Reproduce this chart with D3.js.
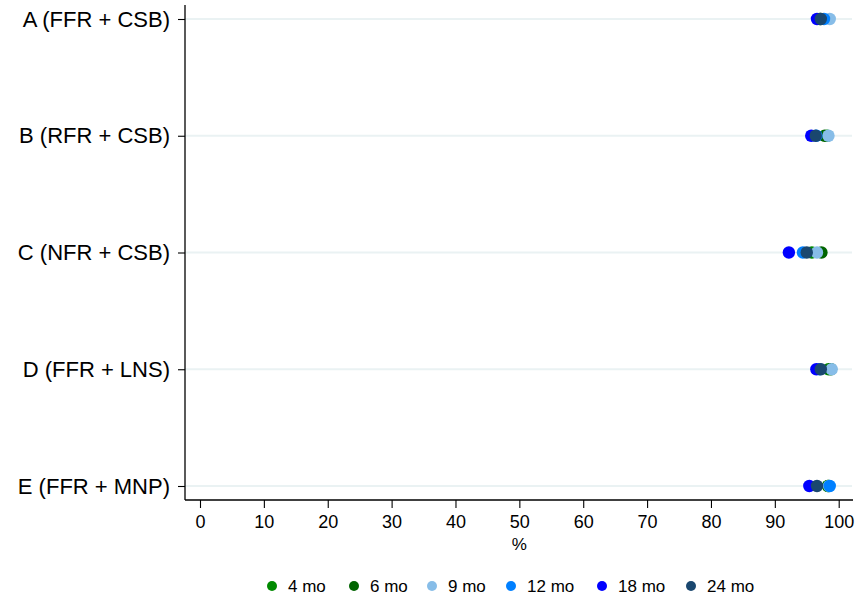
<!DOCTYPE html>
<html>
<head>
<meta charset="utf-8">
<script src="https://cdn.jsdelivr.net/npm/d3@7"></script>
<style>
  body { margin: 0; background: #fff; }
  svg { display: block; font-family: "Liberation Sans", Arial, sans-serif; }
</style>
</head>
<body>
<svg id="chart" width="859" height="600"></svg>
<script>
// Groups (top to bottom) and survey rounds
const groups = ["A (FFR + CSB)", "B (RFR + CSB)", "C (NFR + CSB)", "D (FFR + LNS)", "E (FFR + MNP)"];
const rounds = ["4 mo", "6 mo", "9 mo", "12 mo", "18 mo", "24 mo"];
const roundColors = ["#008a00", "#006400", "#87bde8", "#0080ff", "#0000ff", "#1a476f"];

// Percent per group, one array per round (order follows groups)
const pct4mo  = [97.0, 98.2, 95.8, 98.4, 98.3];
const pct6mo  = [97.2, 97.8, 97.3, 98.8, 98.4];
const pct9mo  = [98.6, 98.4, 96.6, 98.9, 98.5];
const pct12mo = [97.7, 96.5, 94.4, 97.0, 98.6];
const pct18mo = [96.6, 95.7, 92.2, 96.5, 95.4];
const pct24mo = [97.2, 96.4, 95.0, 97.2, 96.6];
const seriesValues = [pct4mo, pct6mo, pct9mo, pct12mo, pct18mo, pct24mo];

const xTicks = [0, 10, 20, 30, 40, 50, 60, 70, 80, 90, 100];

const svg = d3.select("#chart");
const plot = { left: 185, right: 853, top: 5, bottom: 500 };

const x = d3.scaleLinear().domain([0, 100]).range([200, 838.7]);
const y = d3.scalePoint().domain(groups).range([19, 486]);

// Horizontal gridlines at each group
svg.append("g").selectAll("line").data(groups).join("line")
  .attr("x1", plot.left).attr("x2", plot.right - 1)
  .attr("y1", d => y(d)).attr("y2", d => y(d))
  .attr("stroke", "#eaf2f3").attr("stroke-width", 2);

// X axis
const xAxis = svg.append("g")
  .attr("transform", `translate(0,${plot.bottom})`)
  .call(d3.axisBottom(x).tickValues(xTicks).tickSize(8).tickPadding(7).tickSizeOuter(0));
xAxis.select(".domain").attr("d", `M${plot.left},0H${plot.right}`).attr("stroke", "#000").attr("stroke-width", 1.3);
xAxis.selectAll(".tick line").attr("stroke", "#000").attr("stroke-width", 1.1);
xAxis.selectAll(".tick text").attr("font-size", 18).attr("fill", "#000")
  .attr("font-family", "Liberation Sans, Arial, sans-serif");

// Y axis
const yAxis = svg.append("g")
  .attr("transform", `translate(${plot.left},0)`)
  .call(d3.axisLeft(y).tickSize(7).tickPadding(8));
yAxis.select(".domain").attr("d", `M0,${plot.top}V${plot.bottom}`).attr("stroke", "#000").attr("stroke-width", 1.3);
yAxis.selectAll(".tick line").attr("stroke", "#000").attr("stroke-width", 1.1);
yAxis.selectAll(".tick text").attr("font-size", 22).attr("fill", "#000")
  .attr("font-family", "Liberation Sans, Arial, sans-serif");

// Axis title
svg.append("text").attr("x", x(50)).attr("y", 550)
  .attr("text-anchor", "middle").attr("font-size", 17).text("%");

// Dots, one series per round, later rounds on top
seriesValues.forEach((vals, i) => {
  svg.append("g").selectAll("circle").data(vals).join("circle")
    .attr("cx", d => x(d))
    .attr("cy", (d, j) => y(groups[j]))
    .attr("r", 6.2)
    .attr("fill", roundColors[i]);
});

// Legend
const legendX = [272, 354, 432, 511, 602, 691];
const legend = svg.append("g").selectAll("g").data(rounds).join("g")
  .attr("transform", (d, i) => `translate(${legendX[i]},586)`);
legend.append("circle").attr("r", 5).attr("fill", (d, i) => roundColors[i]);
legend.append("text").attr("x", 16).attr("y", 6).attr("font-size", 17).text(d => d);
</script>
</body>
</html>
